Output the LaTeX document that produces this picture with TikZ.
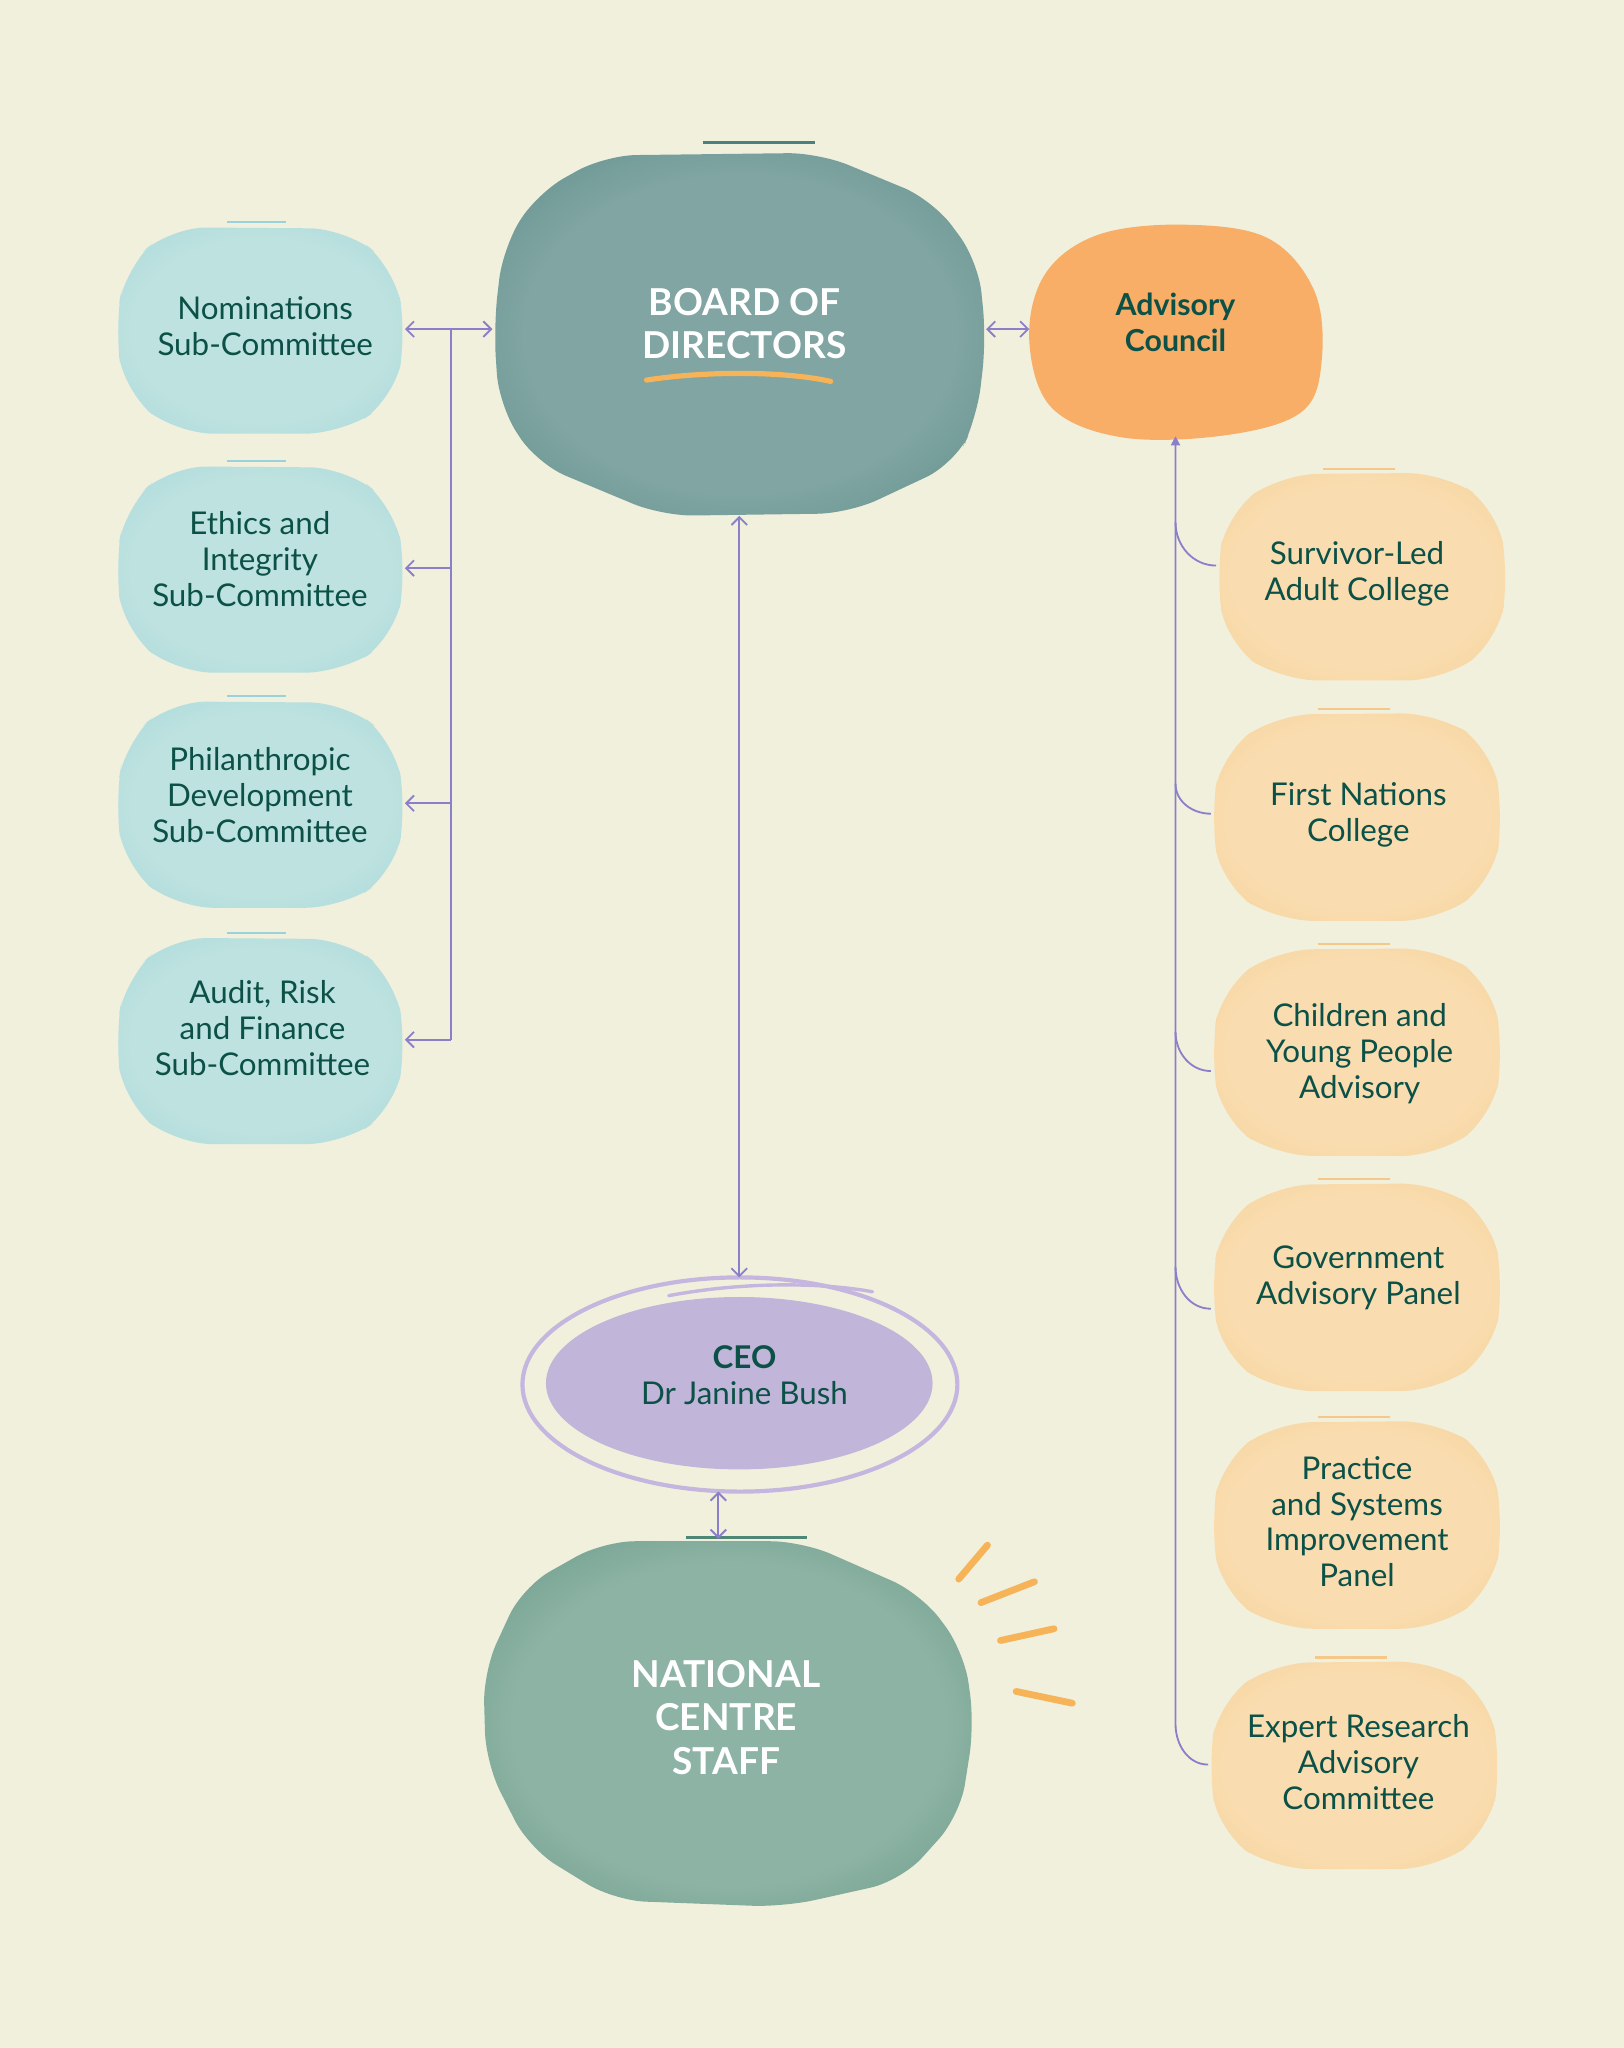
\documentclass[tikz,border=0pt]{standalone}
\usepackage{fontspec}
\setmainfont{Lato}
\usetikzlibrary{arrows.meta,calc}
\definecolor{bg}{HTML}{F1F0DD}
\definecolor{tx}{HTML}{0C5147}
\definecolor{connc}{HTML}{8B7FC9}
\definecolor{bluein}{HTML}{BEE2DF}
\definecolor{blueout}{HTML}{99D2DC}
\definecolor{orin}{HTML}{F9DDB0}
\definecolor{orout}{HTML}{F5C889}
\definecolor{boardin}{HTML}{80A5A2}
\definecolor{boardout}{HTML}{4A807E}
\definecolor{staffin}{HTML}{8DB3A4}
\definecolor{staffout}{HTML}{4E8775}
\definecolor{advc}{HTML}{F8AE67}
\definecolor{ceof}{HTML}{C2B5DA}
\definecolor{ringc}{HTML}{C4B6DE}
\definecolor{rayc}{HTML}{F6B357}
\colorlet{wcin}{bluein}
\colorlet{wcout}{blueout}
\pgfdeclareradialshading[wcin,wcout]{wc}{\pgfpoint{0bp}{0bp}}{color(0bp)=(wcin); color(22bp)=(wcin); color(45bp)=(wcout); color(50bp)=(wcout)}
\newcommand\bodyfont{\fontsize{12}{13.75}\selectfont}
\newcommand\bigfont{\fontsize{14.2}{16.5}\selectfont\bfseries}
\newcommand\lblob[3]{%
  \colorlet{wcin}{bluein}\colorlet{wcout}{blueout}%
  \begin{scope}[shift={(#2,#3)}]
    \shade[shading=wc,rounded corners=14pt] (-69,-78) -- (66,-77) -- (103,-47) -- (112,3) -- (103,53) -- (63,80) -- (-64,80) -- (-104,48) -- (-111,-2) -- (-103,-47) -- cycle;
    \draw[blueout,line width=0.8pt] (-25,-82) -- (20,-82);
  \end{scope}
  \node[hit,minimum width=111pt,minimum height=81pt] (#1) at (#2,#3) {};}
\newcommand\rblob[3]{%
  \colorlet{wcin}{orin}\colorlet{wcout}{orout}%
  \begin{scope}[shift={(#2,#3)}]
    \shade[shading=wc,rounded corners=14pt] (-62,-78) -- (62,-79) -- (103,-52) -- (112,0) -- (104,50) -- (62,80) -- (-62,80) -- (-104,52) -- (-112,0) -- (-104,-48) -- cycle;
    \draw[orout,line width=0.8pt] (-30,-82) -- (25,-82);
  \end{scope}
  \node[hit,minimum width=112pt,minimum height=80pt] (#1) at (#2,#3) {};}
\begin{document}
\begin{tikzpicture}[x=0.5pt,y=-0.5pt,
  >={Straight Barb[length=3pt,width=6pt]},
  hit/.style={inner sep=0pt,outer sep=0pt,draw=none},
  txt/.style={text=tx,align=center,font=\bodyfont,inner sep=0pt},
  bigtxt/.style={text=white,align=center,font=\bigfont,inner sep=0pt},
  conn/.style={draw=connc,line width=0.7pt},
  ray/.style={draw=rayc,line width=2.6pt,line cap=round}]
\fill[bg] (0,0) rectangle (1243,1568);
\useasboundingbox (0,0) rectangle (1243,1568);

% left blobs
\lblob{nom}{199}{252}
\lblob{eth}{199}{435}
\lblob{phi}{199}{615}
\lblob{aud}{199}{796}
\node[txt] at (203,250) {Nominations\\Sub-Committee};
\node[txt] at (199,428) {Ethics and\\Integrity\\Sub-Committee};
\node[txt] at (199,609) {Philanthropic\\Development\\Sub-Committee};
\node[txt] at (201,787) {Audit, Risk\\and Finance\\Sub-Committee};

% board
\colorlet{wcin}{boardin}\colorlet{wcout}{boardout}
\shade[shading=wc,rounded corners=12pt] (411,148) -- (463,119) -- (627,117) -- (714,153) -- (749,200) -- (755,260) -- (748,320) -- (731,355) -- (650,393) -- (507,395) -- (411,355) -- (382,310) -- (378,250) -- (385,190) -- cycle;
\draw[boardout,line width=1pt] (538,109) -- (624,109);
\node[hit,minimum width=189pt,minimum height=143pt] (board) at (566,252) {};
\node[bigtxt] at (570,248) {BOARD OF\\DIRECTORS};
\draw[rayc,line width=2pt,line cap=round] (495,291) .. controls (540,284) and (600,284) .. (636,292);

% advisory council
\fill[advc] plot[smooth cycle,tension=0.6] coordinates {(840,180) (905,172) (970,182) (1006,222) (1012,275) (997,315) (940,333) (860,335) (805,312) (788,260) (800,210)};
\node[hit,minimum width=112pt,minimum height=82pt] (adv) at (900,252) {};
\node[txt,font=\fontsize{11.6}{13.75}\selectfont\bfseries] at (900,247) {Advisory\\Council};

% right blobs
\rblob{sur}{1043}{441}
\rblob{fn}{1039}{625}
\rblob{cyp}{1039}{805}
\rblob{gov}{1039}{985}
\rblob{psi}{1039}{1167}
\rblob{era}{1037}{1351}
\node[txt] at (1039,439) {Survivor-Led\\Adult College};
\node[txt] at (1040,624) {First Nations\\College};
\node[txt] at (1041,807) {Children and\\Young People\\Advisory};
\node[txt] at (1040,978) {Government\\Advisory Panel};
\node[txt] at (1039,1165) {Practice\\and Systems\\Improvement\\Panel};
\node[txt] at (1040,1349) {Expert Research\\Advisory\\Committee};

% CEO
\draw[ringc,line width=1.6pt] (566.5,1060) ellipse (166.5 and 82);
\draw[ringc,line width=1.3pt,line cap=round] (512,992) .. controls (570,981) and (630,982) .. (668,989);
\fill[ceof] (566,1059) ellipse (148 and 66);
\node[hit,minimum width=166.5pt,minimum height=82pt] (ceo) at (566,1060) {};
\node[txt] at (570,1053) {\textbf{CEO}\\Dr Janine Bush};

% staff
\colorlet{wcin}{staffin}\colorlet{wcout}{staffout}
\shade[shading=wc,rounded corners=12pt] (400,1215) -- (462,1180) -- (614,1180) -- (705,1220) -- (738,1264) -- (746,1320) -- (735,1390) -- (690,1440) -- (600,1460) -- (470,1455) -- (405,1415) -- (372,1350) -- (370,1280) -- cycle;
\draw[staffout,line width=1pt] (525,1177) -- (618,1177);
\node[hit,minimum width=188pt,minimum height=141pt] (staff) at (550,1319) {};
\node[bigtxt] at (556,1315) {NATIONAL\\CENTRE\\STAFF};

% rays
\draw[ray] (734,1209) -- (756,1183);
\draw[ray] (751,1227) -- (792,1211);
\draw[ray] (766,1256) -- (807,1247);
\draw[ray] (778,1295) -- (821,1304);

% left connectors
\coordinate (lb) at (345,252);
\draw[conn,<->] (nom.east) -- (board.west);
\draw[conn] (lb) -- (lb |- aud.east);
\draw[conn,->] (lb |- eth.east) -- (eth.east);
\draw[conn,->] (lb |- phi.east) -- (phi.east);
\draw[conn,->] (lb |- aud.east) -- (aud.east);

% board connections
\draw[conn,<->] (board.east) -- (adv.west);
\draw[conn,<->] (board.south) -- (ceo.north);
\draw[conn,<->] (ceo.south -| staff.north) -- (staff.north);

% right bus
\coordinate (b1) at (900,400);
\coordinate (b2) at (900,600);
\coordinate (b3) at (900,790);
\coordinate (b4) at (900,970);
\coordinate (b5) at (900,1320);
\draw[conn,-{Triangle[length=3.5pt,width=3.5pt]}] (era.west) to[out=180,in=-90] (b5) -- (adv.south);
\draw[conn] ([yshift=4pt]sur.west) to[out=180,in=-90] (b1);
\draw[conn] ([yshift=1pt]fn.west) to[out=180,in=-90] (b2);
\draw[conn] ([yshift=-7.5pt]cyp.west) to[out=180,in=-90] (b3);
\draw[conn] ([yshift=-8.5pt]gov.west) to[out=180,in=-90] (b4);
\end{tikzpicture}
\end{document}
